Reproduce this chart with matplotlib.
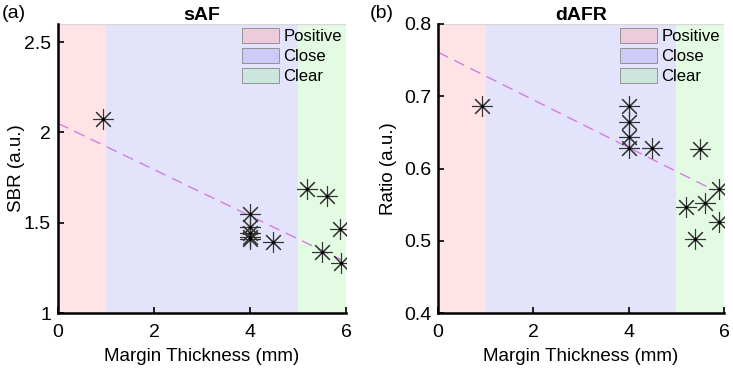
import matplotlib.pyplot as plt
import matplotlib.patches as patches

plt.rcParams['font.family'] = ['Liberation Sans', 'DejaVu Sans']

# region boundaries (mm)
regions = ['Positive', 'Close', 'Clear']
region_edges = [0, 1, 5, 6]
region_colors = ['#ffe3e6', '#e3e3fb', '#e3fbe3']
legend_colors = ['#ecccda', '#ccccf6', '#cce6de']

# sAF
saf_x = [0.94, 4, 4, 4, 4, 4, 4.48, 5.18, 5.6, 5.49, 5.88, 5.89]
saf_y = [2.074, 1.548, 1.478, 1.445, 1.42, 1.41, 1.391, 1.687, 1.648, 1.336, 1.465, 1.275]
saf_fit = [2.05, -0.128]   # intercept, slope
saf_fit_x = [0, 5.9]

# dAFR
dafr_x = [0.93, 4, 4, 4, 4, 4.48, 5.5, 5.9, 5.6, 5.2, 5.89, 5.39]
dafr_y = [0.6865, 0.6865, 0.664, 0.643, 0.629, 0.629, 0.627, 0.5716, 0.552, 0.547, 0.5255, 0.502]
dafr_fit = [0.761, -0.033]
dafr_fit_x = [0, 5.8]


def panel(ax, x, y, fit, fit_x, ylim, yticks, ylabel, title, ylab_x):
    for i in range(3):
        ax.axvspan(region_edges[i], region_edges[i + 1], color=region_colors[i], lw=0, zorder=0)
    fx = fit_x
    fy = [fit[0] + fit[1] * v for v in fx]
    ax.plot(fx, fy, '--', color='#d27ee0', lw=1.0, dashes=(8, 5), zorder=2)
    ax.plot(x, y, ls='none', marker=(8, 2, 0), ms=15, mew=0.8, color='#333333', zorder=3)
    ax.plot(x, y, ls='none', marker='.', ms=2.5, color='black', zorder=4)
    ax.set_xlim(0, 6)
    ax.set_ylim(*ylim)
    ax.set_xticks([0, 2, 4, 6])
    ax.set_yticks(yticks)
    ax.tick_params(labelsize=14, direction='in', length=4, width=1.2, pad=5)
    ax.tick_params(axis='x', pad=8)
    for s in ['top', 'right']:
        ax.spines[s].set_visible(False)
    for s in ['left', 'bottom']:
        ax.spines[s].set_linewidth(1.8)
    ax.axhline(ylim[1], color='#d8d8d8', lw=1.0, zorder=1)
    ax.set_xlabel('Margin Thickness (mm)', fontsize=13.5, labelpad=5)
    ax.set_ylabel(ylabel, fontsize=13.5)
    ax.yaxis.set_label_coords(ylab_x, 0.5)
    ax.set_title(title, fontsize=14, fontweight='bold', pad=2)
    handles = [patches.Patch(facecolor=legend_colors[i], edgecolor='#888888', lw=0.6) for i in range(3)]
    ax.legend(handles, regions, loc='upper right', frameon=False, fontsize=12,
              handlelength=2.2, handleheight=1.0, handletextpad=0.25, labelspacing=0.22,
              borderaxespad=0.15, borderpad=0.1)
    return ax


fig = plt.figure(figsize=(7.33, 3.68), dpi=100)
ax1 = fig.add_axes([58 / 733, 55 / 368, 288 / 733, 289 / 368])
ax2 = fig.add_axes([438 / 733, 55 / 368, 286 / 733, 289 / 368])

panel(ax1, saf_x, saf_y, saf_fit, saf_fit_x, (1, 2.6), [1, 1.5, 2, 2.5], 'SBR (a.u.)', 'sAF', -0.115)
panel(ax2, dafr_x, dafr_y, dafr_fit, dafr_fit_x, (0.4, 0.8), [0.4, 0.5, 0.6, 0.7, 0.8], 'Ratio (a.u.)', 'dAFR', -0.143)
ax1.set_yticklabels(['1', '1.5', '2', '2.5'])
ax2.set_yticklabels(['0.4', '0.5', '0.6', '0.7', '0.8'])

fig.text(2 / 733, 1 - 14 / 368, '(a)', fontsize=14, va='center')
fig.text(370 / 733, 1 - 14 / 368, '(b)', fontsize=14, va='center')

fig.savefig('out.png', dpi=100)
